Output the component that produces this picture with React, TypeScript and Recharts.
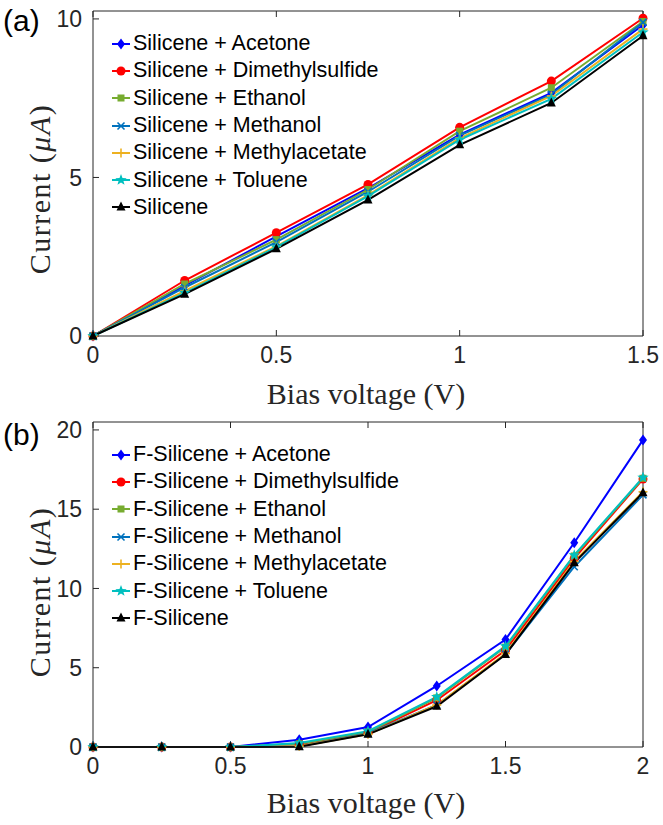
import React from 'react';
import { Legend, Line, LineChart, XAxis, YAxis } from 'recharts';

// bias voltage steps (V)
const VOLT_A = [0, 0.25, 0.5, 0.75, 1, 1.25, 1.5];
const VOLT_B = [0, 0.25, 0.5, 0.75, 1, 1.25, 1.5, 1.75, 2];

// (a) pristine silicene, current in uA
const A_ACETONE = [0, 1.59, 3.14, 4.66, 6.35, 7.67, 9.81];
const A_DMS = [0, 1.75, 3.26, 4.78, 6.58, 8.04, 10.02];
const A_ETHANOL = [0, 1.64, 3.04, 4.62, 6.46, 7.83, 9.92];
const A_METHANOL = [0, 1.53, 2.96, 4.55, 6.32, 7.62, 9.89];
const A_METHYLACETATE = [0, 1.42, 2.83, 4.44, 6.24, 7.57, 9.68];
const A_TOLUENE = [0, 1.36, 2.8, 4.41, 6.19, 7.48, 9.58];
const A_SILICENE = [0, 1.32, 2.75, 4.29, 6.03, 7.35, 9.47];

// (b) F-silicene, current in uA
const B_ACETONE = [0, 0, 0, 0.46, 1.26, 3.85, 6.78, 12.88, 19.37];
const B_DMS = [0, 0, 0, 0.17, 0.88, 2.95, 6.1, 11.9, 16.9];
const B_ETHANOL = [0, 0, 0, 0.2, 0.95, 3.1, 6.3, 12.05, 16.95];
const B_METHANOL = [0, 0, 0, 0.05, 0.85, 2.65, 5.85, 11.37, 15.9];
const B_METHYLACETATE = [0, 0, 0, 0.05, 0.8, 2.65, 5.9, 11.7, 16.1];
const B_TOLUENE = [0, 0, 0, 0.25, 1.0, 3.16, 6.36, 12.1, 17.0];
const B_SILICENE = [0, 0, 0, 0.02, 0.8, 2.57, 5.83, 11.62, 16.04];

const SOLVENTS = ['Acetone', 'Dimethylsulfide', 'Ethanol', 'Methanol', 'Methylacetate', 'Toluene'];
const X_TICKS_A = [0, 0.5, 1, 1.5];
const X_TICKS_B = [0, 0.5, 1, 1.5, 2];
const Y_TICKS_A = [0, 5, 10];
const Y_TICKS_B = [0, 5, 10, 15, 20];

const KEYS = ['acetone', 'dms', 'ethanol', 'methanol', 'methylacetate', 'toluene', 'bare'];
const COLORS = ['#0000FF', '#FF0000', '#77AC30', '#0072BD', '#EDB120', '#00BFBF', '#000000'];
const MARKERS = ['diamond', 'circle', 'square', 'x', 'plus', 'star', 'triangle'];

const AXIS = '#262626';
const SANS = '"Liberation Sans", Arial, sans-serif';
const SERIF = '"Liberation Serif", "Times New Roman", serif';

function Marker({ cx, cy, shape, color }: { cx: number; cy: number; shape: string; color: string }) {
  if (cx == null || cy == null) return null;
  switch (shape) {
    case 'diamond':
      return <polygon points={`${cx},${cy - 5.5} ${cx + 4},${cy} ${cx},${cy + 5.5} ${cx - 4},${cy}`} fill={color} />;
    case 'circle':
      return <circle cx={cx} cy={cy} r={4.5} fill={color} />;
    case 'square':
      return <rect x={cx - 3.5} y={cy - 3.5} width={7} height={7} fill={color} />;
    case 'x':
      return (
        <g stroke={color} strokeWidth={1.6}>
          <line x1={cx - 3.5} y1={cy - 3.5} x2={cx + 3.5} y2={cy + 3.5} />
          <line x1={cx - 3.5} y1={cy + 3.5} x2={cx + 3.5} y2={cy - 3.5} />
        </g>
      );
    case 'plus':
      return (
        <g stroke={color} strokeWidth={1.6}>
          <line x1={cx - 4.5} y1={cy} x2={cx + 4.5} y2={cy} />
          <line x1={cx} y1={cy - 4.5} x2={cx} y2={cy + 4.5} />
        </g>
      );
    case 'star': {
      const pts: string[] = [];
      for (let k = 0; k < 10; k++) {
        const r = k % 2 === 0 ? 6 : 2.5;
        const a = -Math.PI / 2 + (k * Math.PI) / 5;
        pts.push(`${cx + r * Math.cos(a)},${cy + r * Math.sin(a)}`);
      }
      return <polygon points={pts.join(' ')} fill={color} />;
    }
    default:
      return <polygon points={`${cx},${cy - 5.5} ${cx + 4.5},${cy + 3.5} ${cx - 4.5},${cy + 3.5}`} fill={color} />;
  }
}

function LegendBox({ names }: { names: string[] }) {
  return (
    <div style={{ fontFamily: SANS, fontSize: 21.5, color: '#000' }}>
      {names.map((n, i) => (
        <div key={n} style={{ display: 'flex', alignItems: 'center', height: 27.3 }}>
          <svg width={22} height={20} style={{ overflow: 'visible' }}>
            <line x1={2} y1={10} x2={20} y2={10} stroke={COLORS[i]} strokeWidth={2} />
            <Marker cx={11} cy={10} shape={MARKERS[i]} color={COLORS[i]} />
          </svg>
          <span style={{ marginLeft: 1, whiteSpace: 'nowrap' }}>{n}</span>
        </div>
      ))}
    </div>
  );
}

type PanelProps = {
  top: number;
  volts: number[];
  values: number[][];
  names: string[];
  xTicks: number[];
  yTicks: number[];
  yMax: number;
};

function Panel({ top, volts, values, names, xTicks, yTicks, yMax }: PanelProps) {
  const rows = volts.map((v, i) => {
    const row: Record<string, number> = { v };
    KEYS.forEach((k, s) => (row[k] = values[s][i]));
    return row;
  });
  const tickStyle = { fill: AXIS, fontSize: 23, fontFamily: SANS };
  const xMax = volts[volts.length - 1];
  return (
    <div style={{ position: 'absolute', left: 0, top }}>
      <LineChart width={663} height={410} data={rows} margin={{ top: 10, right: 19, bottom: 0, left: 0 }}>
        <XAxis
          xAxisId="b"
          dataKey="v"
          type="number"
          domain={[0, xMax]}
          ticks={xTicks}
          interval={0}
          height={74}
          tickSize={-6}
          tickMargin={17}
          stroke={AXIS}
          tick={tickStyle}
        />
        <XAxis
          xAxisId="t"
          orientation="top"
          dataKey="v"
          type="number"
          domain={[0, xMax]}
          ticks={xTicks}
          interval={0}
          height={1}
          tickSize={-6}
          tickFormatter={() => ''}
          stroke={AXIS}
        />
        <YAxis
          yAxisId="l"
          type="number"
          domain={[0, yMax]}
          ticks={yTicks}
          interval={0}
          width={93}
          tickSize={-6}
          tickMargin={17}
          stroke={AXIS}
          tick={tickStyle}
        />
        <YAxis
          yAxisId="r"
          orientation="right"
          type="number"
          domain={[0, yMax]}
          ticks={yTicks}
          interval={0}
          width={1}
          tickSize={-6}
          tickFormatter={() => ''}
          stroke={AXIS}
        />
        <Legend
          layout="vertical"
          align="center"
          verticalAlign="middle"
          wrapperStyle={{ left: 110, top: 30, width: 'auto' }}
          content={() => <LegendBox names={names} />}
        />
        {KEYS.map((k, s) => (
          <Line
            key={k}
            xAxisId="b"
            yAxisId="l"
            dataKey={k}
            name={names[s]}
            stroke={COLORS[s]}
            strokeWidth={2}
            isAnimationActive={false}
            dot={(p: any) => <Marker key={`${k}-${p.index}`} cx={p.cx} cy={p.cy} shape={MARKERS[s]} color={COLORS[s]} />}
            activeDot={false}
          />
        ))}
      </LineChart>
    </div>
  );
}

export default function App() {
  const namesA = SOLVENTS.map((s) => `Silicene + ${s}`).concat('Silicene');
  const namesB = SOLVENTS.map((s) => `F-Silicene + ${s}`).concat('F-Silicene');
  return (
    <div style={{ position: 'absolute', left: 0, top: 0, width: 663, height: 825, background: '#fff' }}>
      <Panel
        top={0}
        volts={VOLT_A}
        values={[A_ACETONE, A_DMS, A_ETHANOL, A_METHANOL, A_METHYLACETATE, A_TOLUENE, A_SILICENE]}
        names={namesA}
        xTicks={X_TICKS_A}
        yTicks={Y_TICKS_A}
        yMax={10.25}
      />
      <Panel
        top={411}
        volts={VOLT_B}
        values={[B_ACETONE, B_DMS, B_ETHANOL, B_METHANOL, B_METHYLACETATE, B_TOLUENE, B_SILICENE]}
        names={namesB}
        xTicks={X_TICKS_B}
        yTicks={Y_TICKS_B}
        yMax={20.5}
      />
      <svg width={663} height={825} style={{ position: 'absolute', left: 0, top: 0, pointerEvents: 'none' }}>
        <text x={3} y={31} fontFamily={SANS} fontSize={30} fill="#000">(a)</text>
        <text x={3} y={445} fontFamily={SANS} fontSize={30} fill="#000">(b)</text>
        <g fontFamily={SERIF} fontSize={30} fill={AXIS} textAnchor="middle">
          <text x={366} y={404}>Bias voltage (V)</text>
          <text x={366} y={813}>Bias voltage (V)</text>
          <text transform="translate(50,189) rotate(-90)" letterSpacing={1.5}>
            Current (<tspan fontStyle="italic">μA</tspan>)
          </text>
          <text transform="translate(50,592) rotate(-90)" letterSpacing={1.5}>
            Current (<tspan fontStyle="italic">μA</tspan>)
          </text>
        </g>
      </svg>
    </div>
  );
}
